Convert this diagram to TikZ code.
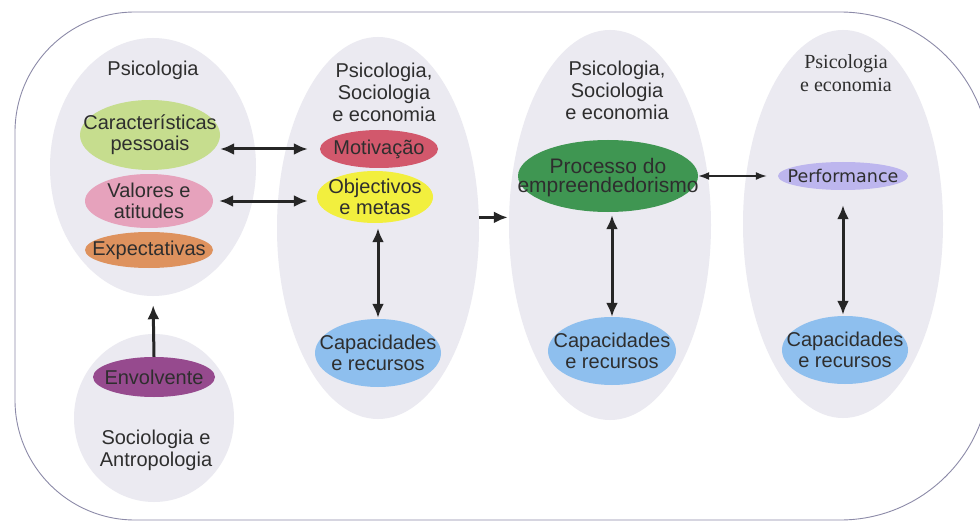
\documentclass[tikz,border=0pt]{standalone}
\usepackage{fontspec}
\setmainfont{Liberation Sans}
\newfontfamily\serifR{Liberation Serif}
\newfontfamily\dejav{DejaVu Sans}
\usetikzlibrary{shapes.geometric,arrows.meta}
\definecolor{bggrey}{HTML}{EBEAF1}
\definecolor{framec}{HTML}{8C8AA8}
\definecolor{cgreen}{HTML}{C6DD8E}
\definecolor{cpink}{HTML}{E6A2BC}
\definecolor{corange}{HTML}{DE925E}
\definecolor{cpurple}{HTML}{964A8E}
\definecolor{cred}{HTML}{D2586C}
\definecolor{cyellow}{HTML}{F2EF3E}
\definecolor{cblue}{HTML}{8EBFEE}
\definecolor{cdgreen}{HTML}{3F9652}
\definecolor{clav}{HTML}{BDB6EE}
\definecolor{txt}{HTML}{2E2E2E}
\begin{document}
\begin{tikzpicture}[x=1pt,y=-1pt,
  bigell/.style={ellipse, fill=bggrey, draw=none, inner sep=0pt},
  item/.style={ellipse, draw=none, inner sep=0pt},
  itxt/.style={align=center, text=txt, inner sep=0pt, font=\fontsize{20}{21}\selectfont},
  lbl/.style={align=center, text=txt, inner sep=0pt, font=\fontsize{20}{22}\selectfont},
  dbl/.style={line width=3pt, draw=black!85, {Latex[length=14pt,width=12pt]}-{Latex[length=14pt,width=12pt]}},
  sgl/.style={line width=3pt, draw=black!85, -{Latex[length=14pt,width=12pt]}},
  thindbl/.style={line width=1.6pt, draw=black!85, {Latex[length=11pt,width=8pt]}-{Latex[length=11pt,width=8pt]}}
]
\useasboundingbox (0,0) rectangle (980,524);
\fill[white] (0,0) rectangle (980,524);
\draw[framec, line width=0.9pt] (500,12) [rounded corners=150pt] -- (990,12) -- (990,520) -- (500,520)
  [rounded corners=120pt] -- (15,520) -- (15,12) -- (501,12);

% grey group ellipses
\node[bigell, minimum width=206pt, minimum height=258pt] (g1) at (153,167) {};
\node[bigell, minimum width=160pt, minimum height=168pt] (g5) at (154,418) {};
\node[bigell, minimum width=202pt, minimum height=382pt] (g2) at (378,228) {};
\node[bigell, minimum width=202pt, minimum height=390pt] (g3) at (610,225) {};
\node[bigell, minimum width=200pt, minimum height=388pt] (g4) at (843,224) {};

% column labels
\node[lbl] (t1) at (153,70) {Psicologia};
\node[lbl] (t5) at (156,450) {Sociologia e\\Antropologia};
\node[lbl] (t2) at (384,92) {Psicologia,\\Sociologia\\e economia};
\node[lbl] (t3) at (617,90) {Psicologia,\\Sociologia\\e economia};
\node[lbl, font=\serifR\fontsize{20}{23}\selectfont] (t4) at (846,73) {Psicologia\\e economia};

% item shapes
\node[item, fill=cgreen, minimum width=140pt, minimum height=70pt] (car) at (150,135) {};
\node[item, fill=cpink, minimum width=128pt, minimum height=54pt] (val) at (149,201) {};
\node[item, fill=corange, minimum width=128pt, minimum height=36pt] (exp) at (149,250) {};
\node[item, fill=cpurple, minimum width=122pt, minimum height=40pt] (env) at (154,377) {};
\node[item, fill=cred, minimum width=118pt, minimum height=38pt] (mot) at (379,149) {};
\node[item, fill=cyellow, minimum width=116pt, minimum height=52pt] (obj) at (375,197) {};
\node[item, fill=cblue, minimum width=126pt, minimum height=68pt] (cap2) at (378,353) {};
\node[item, fill=cdgreen, minimum width=180pt, minimum height=72pt] (proc) at (608,176) {};
\node[item, fill=clav, minimum width=130pt, minimum height=28pt] (perf) at (843,176) {};
\node[item, fill=cblue, minimum width=128pt, minimum height=68pt] (cap3) at (612,351) {};
\node[item, fill=cblue, minimum width=126pt, minimum height=68pt] (cap4) at (845,350) {};

% item texts
\node[itxt] (carT) at (car) {Características\\pessoais};
\node[itxt] (valT) at (val) {Valores e\\atitudes};
\node[itxt] (expT) at (exp) {Expectativas};
\node[itxt] (envT) at (env) {Envolvente};
\node[itxt] (motT) at (mot) {Motivação};
\node[itxt] (objT) at (obj) {Objectivos\\e metas};
\node[itxt] (cap2T) at (cap2) {Capacidades\\e recursos};
\node[itxt, font=\fontsize{21}{19}\selectfont] (procT) at ([yshift=-2pt]proc.center) {Processo do\\empreendedorismo};
\node[itxt, font=\dejav\fontsize{17.5}{19}\selectfont] (perfT) at (perf) {Performance};
\node[itxt] (cap3T) at (cap3) {Capacidades\\e recursos};
\node[itxt] (cap4T) at (cap4) {Capacidades\\e recursos};

% connectors
\draw[sgl, shorten >=9pt] (env.north) -- (g1.south);
\draw[dbl, shorten >=12pt] (car.east |- mot.west) -- (mot.west);
\draw[dbl, shorten <=6pt, shorten >=9pt] (val.east) -- (obj.west |- val.east);
\draw[dbl, shorten <=5pt, shorten >=1pt] (obj.south -| cap2.north) -- (cap2.north);
\draw[sgl, shorten >=1pt] (g2.6) -- (g3.west |- g2.6);
\draw[thindbl, shorten >=11pt] (proc.east) -- (perf.west);
\draw[dbl, shorten <=3pt] (proc.south -| cap3.north) -- (cap3.north);
\draw[dbl, shorten <=15pt, shorten >=1pt] (perf.south) -- (cap4.north -| perf.south);
\end{tikzpicture}
\end{document}
